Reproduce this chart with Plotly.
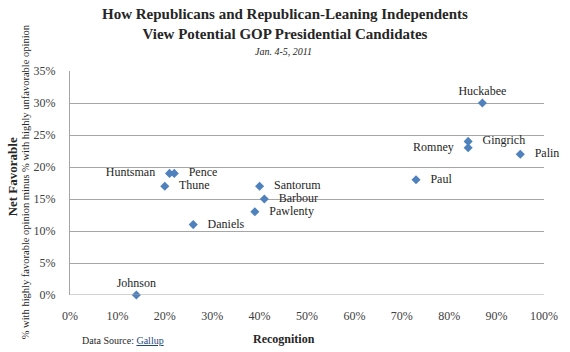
import plotly.graph_objects as go

candidates = ["Huckabee", "Gingrich", "Romney", "Palin", "Paul", "Huntsman", "Pence",
              "Thune", "Santorum", "Barbour", "Pawlenty", "Daniels", "Johnson"]
recognition = [87, 84, 84, 95, 73, 21, 22, 20, 40, 41, 39, 26, 14]
net_favorable = [30, 24, 23, 22, 18, 19, 19, 17, 17, 15, 13, 11, 0]
label_pos = ["top center", "middle right", "middle left", "middle right", "middle right",
             "middle left", "middle right", "middle right", "middle right", "middle right",
             "middle right", "middle right", "top center"]
x_ticks = [0, 10, 20, 30, 40, 50, 60, 70, 80, 90, 100]
y_ticks = [0, 5, 10, 15, 20, 25, 30, 35]

SERIF = "Liberation Serif, Times New Roman, serif"
TXT = "#262626"
TICK = "#404040"
W, H = 570, 352
ML, MR, MT, MB = 70, 23, 71, 57
pw = W - ML - MR
ph = H - MT - MB


def px(x, y):
    return (x - ML) / pw, (H - MB - y) / ph


def ann(text, x, y, size, xanchor="center", angle=0, color=TXT):
    ax, ay = px(x, y)
    return dict(text=text, x=ax, y=ay, xref="paper", yref="paper", xanchor=xanchor,
                yanchor="middle", showarrow=False, textangle=angle,
                font=dict(family=SERIF, size=size, color=color))


fig = go.Figure()
fig.add_trace(go.Scatter(
    x=[v / 100 for v in recognition],
    y=[v / 100 for v in net_favorable],
    mode="markers+text",
    text=[(c if p == "top center" else "   " + c + "   ") for c, p in zip(candidates, label_pos)],
    textposition=label_pos,
    textfont=dict(family=SERIF, size=12, color=TXT),
    marker=dict(symbol="diamond", size=7, color="#4F81BD"),
    cliponaxis=False,
    hoverinfo="skip",
    showlegend=False,
))

fig.add_shape(type="line", xref="paper", yref="y", x0=0, x1=1, y0=0, y1=0,
              line=dict(color="#a6a6a6", width=1.2))

fig.update_layout(
    width=W, height=H,
    margin=dict(l=ML, r=MR, t=MT, b=MB),
    paper_bgcolor="white", plot_bgcolor="white",
    font=dict(family=SERIF, size=12, color=TXT),
    xaxis=dict(
        range=[0, 1], tickvals=[v / 100 for v in x_ticks],
        ticktext=[f"{v}%" for v in x_ticks],
        showgrid=False, zeroline=False, showline=False,
        ticks="", ticklabelstandoff=12,
        tickfont=dict(family=SERIF, size=12, color=TICK),
    ),
    yaxis=dict(
        range=[0, 0.35], tickvals=[v / 100 for v in y_ticks],
        ticktext=[f"{v}%" for v in y_ticks],
        showgrid=True, gridcolor="#a6a6a6", gridwidth=1,
        zeroline=False, showline=True, linecolor="#a6a6a6", linewidth=1.2,
        ticks="", ticklabelstandoff=11,
        tickfont=dict(family=SERIF, size=12, color=TICK),
    ),
    annotations=[
        ann("<b>How Republicans and Republican-Leaning Independents<br>View Potential GOP Presidential Candidates</b>",
            286, 24.5, 15),
        ann("<i>Jan. 4-5, 2011</i>", 285, 52, 10),
        ann("<b>Net Favorable</b>", 12, 177, 13, angle=-90),
        ann("% with highly favorable opinion minus % with highly unfavorable opinion", 25, 182, 10.5, angle=-90),
        ann("<b>Recognition</b>", 285, 339, 12),
        ann("Data Source: <a href='https://www.gallup.com'><span style='color:#1F497D;text-decoration:underline'>Gallup</span></a>",
            80, 340, 10, xanchor="left"),
    ],
)

fig.write_html("out.html")
